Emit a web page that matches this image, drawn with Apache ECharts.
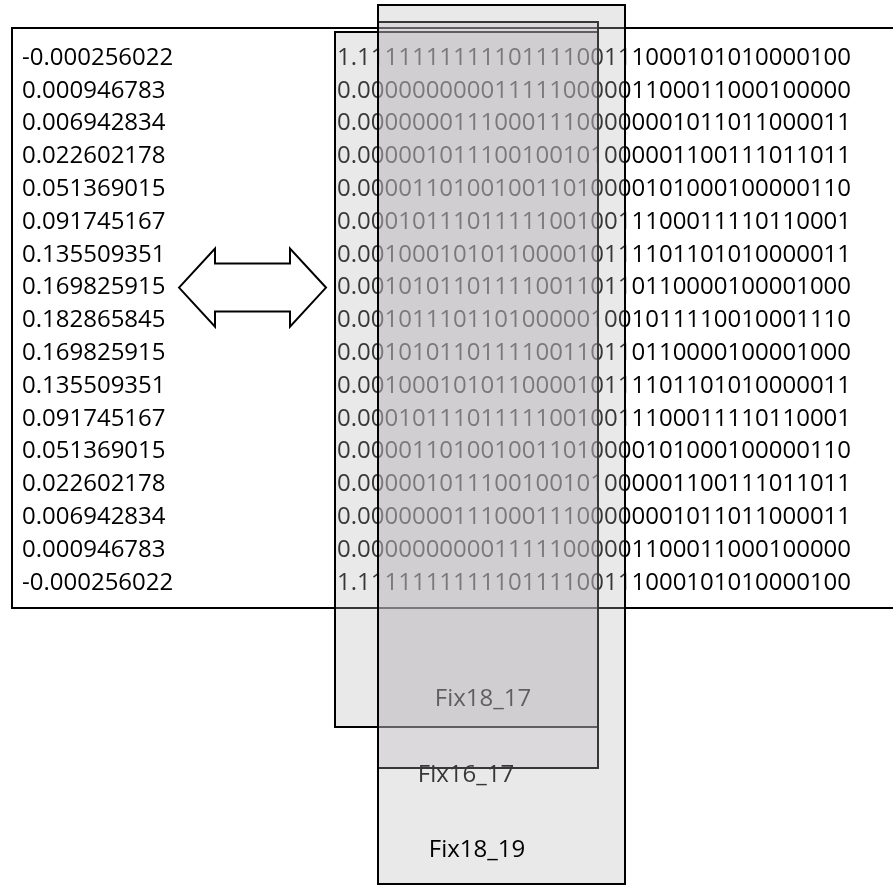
<!DOCTYPE html>
<html><head><meta charset="utf-8">
<script src="https://cdn.jsdelivr.net/npm/echarts@6/dist/echarts.min.js"></script>
<style>html,body{margin:0;padding:0;background:#fff}#c{width:893px;height:888px}</style>
</head><body><div id="c"></div>
<script>
// ---- data ----
const decimals = [
  '-0.000256022','0.000946783','0.006942834','0.022602178','0.051369015',
  '0.091745167','0.135509351','0.169825915','0.182865845','0.169825915',
  '0.135509351','0.091745167','0.051369015','0.022602178','0.006942834',
  '0.000946783','-0.000256022'
];
const binaries = [
  '1.111111111110111100111000101010000100',
  '0.000000000011111000001100011000100000',
  '0.000000011100011100000001011011000011',
  '0.000001011100100101000001100111011011',
  '0.000011010010011010000101000100000110',
  '0.000101110111110010011100011110110001',
  '0.001000101011000010111101101010000011',
  '0.001010110111100110110110000100001000',
  '0.001011101101000001001011110010001110',
  '0.001010110111100110110110000100001000',
  '0.001000101011000010111101101010000011',
  '0.000101110111110010011100011110110001',
  '0.000011010010011010000101000100000110',
  '0.000001011100100101000001100111011011',
  '0.000000011100011100000001011011000011',
  '0.000000000011111000001100011000100000',
  '1.111111111110111100111000101010000100'
];
// fixed-point formats, in drawing order, with the bit ranges they cover (0 = sign bit)
const formats  = ['Fix18_17', 'Fix16_17', 'Fix18_19'];
const firstBit = [0, 2, 2];
const lastBit  = [17, 17, 19];

// ---- layout ----
const CW = 13.75;          // px per digit
const RH = 32.8;           // px per row
const X0 = 337, Y0 = 58;   // pixel of text start / first row centre
const W = 893, H = 888;
const FONT = '24px "Open Sans"';
const FILL = 'rgba(184,181,184,0.3)';
const DOT = 0.47;          // width of "." in digits
function bitLeft(b){ return b === 0 ? 0 : 1 + DOT + (b - 1); }
const boxTop    = [-0.79, -1.10, -1.62];
const boxBottom = [20.40, 21.65, 25.18];
const labelPos  = [[10.62, 19.54], [9.38, 21.87], [10.18, 24.15]];

const chart = echarts.init(document.getElementById('c'), null, {renderer: 'canvas'});

function rectFrom(api, a, b){
  const p = api.coord(a), q = api.coord(b);
  return {x: Math.round(p[0]), y: Math.round(p[1]), width: Math.round(q[0]) - Math.round(p[0]), height: Math.round(q[1]) - Math.round(p[1])};
}

chart.setOption({
  animation: false,
  backgroundColor: '#fff',
  grid: {left: 0, right: 0, top: 0, bottom: 0},
  xAxis: {type: 'value', min: -X0 / CW, max: (W - X0) / CW, show: false},
  yAxis: {type: 'value', inverse: true, min: -Y0 / RH, max: (H - Y0) / RH, show: false},
  series: [
    { // outer frame
      type: 'custom', z: 1, data: [[0]],
      renderItem: (params, api) => ({
        type: 'rect',
        shape: rectFrom(api, [(12 - X0) / CW, -0.915], [(905 - X0) / CW, 16.77]),
        style: {fill: null, stroke: '#000', lineWidth: 2}
      })
    },
    { // decimal column
      type: 'custom', z: 1, data: decimals.map((d, i) => [i]),
      renderItem: (params, api) => {
        const i = params.dataIndex;
        const p = api.coord([(22 - X0) / CW, i]);
        return {type: 'text', x: p[0], y: p[1],
          style: {text: decimals[i], font: FONT, fill: '#000', align: 'left', verticalAlign: 'middle'}};
      }
    },
    { // binary column
      type: 'custom', z: 1, data: binaries.map((d, i) => [i]),
      renderItem: (params, api) => {
        const i = params.dataIndex;
        const p = api.coord([0, i]);
        return {type: 'text', x: p[0], y: p[1],
          style: {text: binaries[i], font: FONT, fill: '#000', align: 'left', verticalAlign: 'middle'}};
      }
    },
    { // double arrow
      type: 'custom', z: 1, data: [[7]],
      renderItem: (params, api) => {
        const r = api.value(0);
        const P = (px, dy) => { const c = api.coord([(px - X0) / CW, r]); return [c[0], c[1] + dy]; };
        return {type: 'polygon', shape: {points: [
          P(179, 0), P(215, -39), P(215, -24), P(290, -24), P(290, -39), P(326, 0),
          P(290, 39), P(290, 24), P(215, 24), P(215, 39)
        ]}, style: {fill: '#fff', stroke: '#000', lineWidth: 2}};
      }
    },
    { // fixed-point format boxes
      type: 'custom', z: 2, data: formats.map((f, i) => [i]),
      renderItem: (params, api) => {
        const i = params.dataIndex;
        const l = firstBit[i] === 0 ? -0.15 : bitLeft(firstBit[i]) + 0.5;
        const r = bitLeft(lastBit[i] + 1) + 0.5;
        const lp = api.coord(labelPos[i]);
        return {type: 'group', children: [
          {type: 'rect', shape: rectFrom(api, [l, boxTop[i]], [r, boxBottom[i]]),
           style: {fill: FILL, stroke: '#000', lineWidth: 2}},
          {type: 'text', x: lp[0], y: lp[1],
           style: {text: formats[i], font: FONT, fill: '#000', align: 'center', verticalAlign: 'middle'}}
        ]};
      }
    }
  ]
});
</script></body></html>
